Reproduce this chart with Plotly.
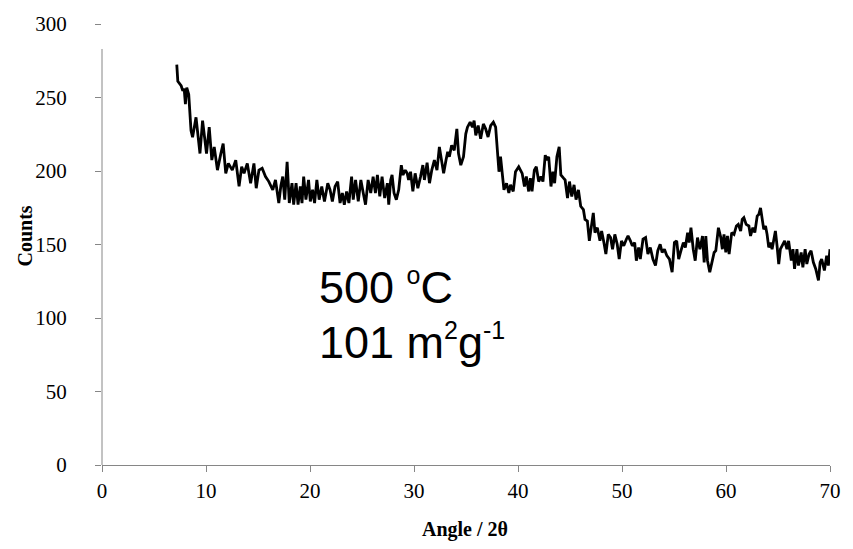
import plotly.graph_objects as go

angle = [
    7.19, 7.29, 7.61, 7.77, 7.90, 8.02, 8.15, 8.34, 8.56, 8.71, 9.04, 9.20, 9.42, 9.67, 9.93,
    10.05, 10.31, 10.56, 10.79, 11.10, 11.43, 11.65, 11.90, 12.15, 12.53, 12.86, 13.18, 13.43,
    13.66, 13.97, 14.29, 14.61, 14.83, 15.09, 15.40, 15.72, 16.04, 16.42, 16.68, 17.00, 17.20,
    17.38, 17.57, 17.80, 18.01, 18.27, 18.43, 18.66, 18.85, 19.07, 19.23, 19.39, 19.61, 19.86,
    20.03, 20.25, 20.44, 20.66, 20.88, 21.13, 21.39, 21.71, 21.93, 22.15, 22.41, 22.66, 22.89,
    23.11, 23.30, 23.52, 23.74, 24.00, 24.16, 24.38, 24.64, 24.89, 25.12, 25.34, 25.59, 25.84,
    26.07, 26.29, 26.48, 26.71, 26.93, 27.18, 27.44, 27.57, 27.76, 27.89, 28.08, 28.30, 28.53,
    28.78, 28.94, 29.16, 29.35, 29.48, 29.67, 29.89, 30.11, 30.37, 30.63, 30.85, 31.00, 31.26,
    31.49, 31.71, 31.96, 32.21, 32.44, 32.60, 32.85, 33.08, 33.24, 33.40, 33.62, 33.87, 34.12,
    34.28, 34.50, 34.76, 34.98, 35.14, 35.40, 35.62, 35.78, 35.94, 36.17, 36.41, 36.67, 36.89,
    37.12, 37.37, 37.63, 37.85, 38.00, 38.17, 38.32, 38.49, 38.65, 38.90, 39.12, 39.28, 39.54,
    39.76, 40.07, 40.40, 40.62, 40.80, 41.03, 41.19, 41.35, 41.57, 41.76, 41.99, 42.21, 42.40,
    42.62, 42.78, 42.95, 43.17, 43.36, 43.52, 43.74, 43.96, 44.12, 44.38, 44.53, 44.76, 44.95,
    45.17, 45.39, 45.58, 45.81, 46.03, 46.29, 46.44, 46.67, 46.86, 47.08, 47.24, 47.40, 47.63,
    47.88, 48.04, 48.26, 48.45, 48.68, 48.90, 49.09, 49.31, 49.54, 49.73, 49.95, 50.17, 50.42,
    50.58, 50.81, 50.99, 51.22, 51.38, 51.60, 51.76, 52.02, 52.27, 52.49, 52.72, 52.97, 53.22,
    53.44, 53.67, 53.86, 54.08, 54.31, 54.56, 54.82, 55.04, 55.26, 55.45, 55.67, 55.90, 56.09,
    56.31, 56.46, 56.63, 56.85, 57.04, 57.26, 57.49, 57.74, 57.90, 58.06, 58.22, 58.44, 58.63,
    58.86, 59.02, 59.27, 59.50, 59.65, 59.81, 59.98, 60.14, 60.30, 60.55, 60.77, 61.00, 61.18,
    61.41, 61.56, 61.72, 61.94, 62.20, 62.36, 62.58, 62.77, 63.00, 63.15, 63.32, 63.48, 63.63,
    63.80, 63.95, 64.11, 64.27, 64.43, 64.59, 64.75, 64.91, 65.07, 65.23, 65.44, 65.64, 65.86,
    66.02, 66.28, 66.44, 66.59, 66.82, 66.97, 67.23, 67.39, 67.61, 67.77, 67.99, 68.18, 68.40,
    68.63, 68.89, 69.05, 69.20, 69.46, 69.68, 69.84, 70.00,
]

counts = [
    272.4, 261.0, 258.0, 254.5, 256.0, 245.5, 256.7, 252.0, 227.6, 223.0, 236.5, 227.6, 211.9, 234.3, 220.8,
    211.9, 229.8, 207.4, 216.4, 200.6, 211.9, 218.6, 198.4, 205.2, 200.6, 207.4, 189.5, 202.9,
    198.4, 205.2, 191.7, 205.2, 188.3, 200.6, 201.8, 196.2, 192.8, 187.2, 193.9, 178.2, 190.0,
    196.2, 180.5, 206.3, 178.2, 191.7, 177.1, 191.7, 177.1, 189.5, 178.2, 196.2, 180.5, 193.9,
    179.3, 187.2, 178.2, 193.9, 180.5, 189.5, 179.3, 191.7, 187.2, 179.3, 189.5, 192.8, 178.2,
    185.0, 177.1, 186.1, 178.2, 196.2, 180.5, 193.9, 179.3, 193.9, 185.0, 177.1, 193.9, 185.0,
    196.2, 185.0, 197.3, 182.7, 196.2, 181.6, 191.7, 177.1, 193.9, 197.3, 185.0, 180.5, 187.2,
    204.0, 197.3, 200.6, 198.4, 193.9, 199.5, 186.1, 198.4, 188.3, 196.2, 204.0, 193.9, 205.6,
    191.7, 200.6, 207.4, 200.6, 216.4, 209.7, 198.4, 207.4, 213.0, 209.7, 217.5, 214.1, 228.7,
    211.9, 204.0, 209.7, 225.3, 229.8, 233.2, 229.8, 234.3, 224.2, 230.9, 222.0, 232.0, 228.7,
    223.1, 230.9, 233.2, 229.8, 215.0, 199.5, 209.7, 200.0, 187.2, 191.7, 185.0, 190.6, 186.1,
    199.5, 202.9, 198.4, 189.5, 196.2, 186.1, 195.1, 186.1, 200.6, 202.9, 192.8, 196.2, 192.8,
    210.8, 207.4, 209.7, 189.5, 199.5, 191.7, 209.7, 216.4, 197.3, 195.1, 193.9, 181.6, 192.8,
    182.7, 190.6, 180.5, 187.2, 176.0, 173.7, 167.0, 165.9, 152.5, 164.8, 171.5, 158.1, 161.4,
    152.5, 159.2, 151.3, 143.5, 156.9, 154.7, 146.8, 156.9, 150.2, 140.1, 152.5, 149.1, 153.6,
    155.8, 152.5, 149.1, 151.3, 139.0, 148.0, 140.1, 153.6, 154.7, 143.5, 148.0, 140.1, 135.7,
    145.8, 150.2, 144.6, 146.8, 142.4, 140.1, 131.2, 151.3, 152.5, 140.1, 145.8, 151.3, 148.0,
    158.1, 151.3, 161.4, 146.8, 139.0, 154.7, 146.8, 155.8, 137.9, 155.8, 139.0, 131.2, 137.9,
    144.6, 145.8, 161.4, 154.7, 146.8, 156.9, 144.6, 155.8, 143.5, 158.1, 156.9, 162.6, 163.7,
    159.2, 167.0, 168.2, 163.7, 162.6, 155.8, 161.4, 158.1, 169.3, 170.4, 174.9, 167.0, 160.3,
    162.6, 156.9, 148.0, 151.3, 146.8, 152.5, 159.2, 149.1, 136.7, 146.8, 150.2, 152.5, 146.8,
    152.5, 139.0, 146.8, 133.4, 146.8, 135.7, 144.6, 134.5, 146.8, 136.7, 143.5, 145.8, 137.9,
    133.4, 125.6, 137.9, 140.1, 132.3, 142.4, 135.7, 146.8,
]

x_ticks = [0, 10, 20, 30, 40, 50, 60, 70]
y_ticks = [0, 50, 100, 150, 200, 250, 300]
x_title = "Angle / 2θ"
y_title = "Counts"
SUP = '<sup><span style="font-size:25px">{}</span></sup>'
label_line1 = "500 " + SUP.format("o") + "C"
label_line2 = "101 m" + SUP.format("2") + "g" + SUP.format("-1")

AX = "#868686"
SERIF = "Liberation Serif, Times New Roman, serif"
SANS = "Liberation Sans, Arial, sans-serif"

fig = go.Figure()
fig.add_trace(go.Scatter(x=angle, y=counts, mode="lines",
                         line=dict(color="black", width=2.8), showlegend=False,
                         hoverinfo="skip"))

fig.update_layout(
    width=853, height=549,
    margin=dict(l=102, r=18, t=19, b=84),
    paper_bgcolor="white", plot_bgcolor="white",
    font=dict(family=SERIF, color="black", size=21),
    xaxis=dict(range=[0, 70], tickvals=x_ticks, showgrid=False, zeroline=False,
               showline=True, linecolor=AX, linewidth=1,
               ticks="outside", ticklen=6, tickcolor=AX,
               ticklabelstandoff=1,
               tickfont=dict(family=SERIF, size=21, color="black")),
    yaxis=dict(range=[0, 300], tickvals=y_ticks, showgrid=False, zeroline=False,
               showline=False,
               ticks="outside", ticklen=6, tickcolor=AX,
               ticklabelstandoff=24,
               tickfont=dict(family=SERIF, size=21, color="black")),
    shapes=[dict(type="line", xref="paper", yref="paper", x0=0, x1=0, y0=0, y1=283 / 300,
                 line=dict(color=AX, width=1))],
    annotations=[
        dict(text="<b>" + x_title + "</b>", xref="paper", yref="paper", x=0.4993, y=-0.146,
             xanchor="center", yanchor="middle", showarrow=False,
             font=dict(family=SERIF, size=20, color="black")),
        dict(text="<b>" + y_title + "</b>", xref="paper", yref="paper", x=-0.106, y=0.52,
             xanchor="center", yanchor="middle", showarrow=False, textangle=-90,
             font=dict(family=SERIF, size=20, color="black")),
        dict(text=label_line1, xref="paper", yref="paper", x=0.295, y=0.404,
             xanchor="left", yanchor="middle", showarrow=False,
             font=dict(family=SANS, size=45, color="black")),
        dict(text=label_line2, xref="paper", yref="paper", x=0.295, y=0.279,
             xanchor="left", yanchor="middle", showarrow=False,
             font=dict(family=SANS, size=45, color="black")),
    ],
)

fig.write_html("out.html")
